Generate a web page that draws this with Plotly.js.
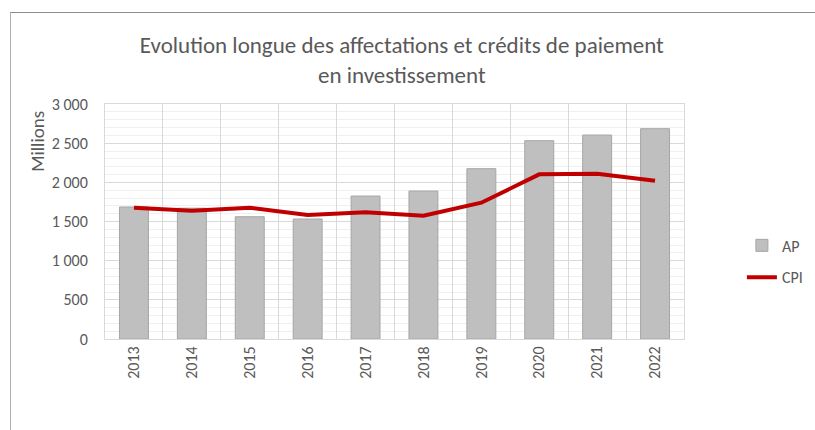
<!DOCTYPE html>
<html>
<head>
<meta charset="utf-8">
<script src="https://cdn.plot.ly/plotly-3.0.1.min.js"></script>
<style>
html,body{margin:0;padding:0;background:#fff;}
#wrap{position:relative;width:815px;height:430px;overflow:hidden;}
#frame{position:absolute;left:10px;top:12px;width:900px;height:500px;border-top:1px solid #8c8c8c;border-left:1px solid #b0b0b0;pointer-events:none;z-index:5;}
#chart{position:absolute;left:0;top:0;width:815px;height:430px;}
</style>
</head>
<body>
<div id="wrap"><div id="chart"></div><div id="frame"></div></div>
<script>
const years = ["2013","2014","2015","2016","2017","2018","2019","2020","2021","2022"];
const apValues = [1685, 1670, 1561, 1532, 1825, 1889, 2174, 2532, 2604, 2685];
const cpiValues = [1676, 1638, 1676, 1583, 1617, 1574, 1740, 2102, 2110, 2021];
const yTickVals = [0, 500, 1000, 1500, 2000, 2500, 3000];
const yTickText = ["0", "500", "1 000", "1 500", "2 000", "2 500", "3 000"];

const font = "Calibri, Carlito, 'Liberation Sans', 'Open Sans', sans-serif";
const grey = "#595959";

const traces = [
  {
    type: "bar", name: "AP", x: years, y: apValues, legendgroup: "a",
    marker: {color: "#bfbfbf", line: {color: "#a6a6a6", width: 1}},
    width: 0.5
  },
  {
    type: "scatter", mode: "lines", name: "CPI", x: years, y: cpiValues, legendgroup: "b",
    line: {color: "#c00000", width: 4}
  }
];

const layout = {
  width: 815, height: 430,
  margin: {l: 105, r: 131, t: 104, b: 91, autoexpand: false},
  paper_bgcolor: "#fff", plot_bgcolor: "#fff",
  font: {family: font, color: grey, size: 16},
  title: {
    text: "Evolution longue des affectations et crédits de paiement<br>en investissement",
    font: {size: 23, color: grey, family: font},
    x: 0.493, xref: "container", xanchor: "center",
    y: 0.877, yref: "container", yanchor: "middle"
  },
  showlegend: true,
  legend: {
    x: 1.1, xanchor: "left", y: 0.33, yanchor: "middle",
    font: {size: 16, color: grey}, tracegroupgap: 8, traceorder: "grouped"
  },
  xaxis: {
    type: "category",
    tickson: "boundaries",
    showgrid: true, gridcolor: "#d9d9d9", gridwidth: 1,
    showline: true, linecolor: "#d9d9d9", linewidth: 1,
    ticks: "outside", ticklen: 5, tickcolor: "rgba(0,0,0,0)", tickangle: -90,
    tickfont: {size: 16, color: grey},
    range: [-0.5, 9.5], mirror: true
  },
  yaxis: {
    range: [0, 3000],
    tickvals: yTickVals, ticktext: yTickText,
    showgrid: true, gridcolor: "#d9d9d9", gridwidth: 1,
    zeroline: false,
    showline: true, linecolor: "#d9d9d9", mirror: true,
    minor: {dtick: 100, showgrid: true, gridcolor: "#f0f0f0", gridwidth: 1},
    ticks: "outside", ticklen: 13, tickcolor: "rgba(0,0,0,0)", tickfont: {size: 16, color: grey},
    automargin: false
  },
  annotations: [{
    text: "Millions", textangle: -90,
    xref: "paper", yref: "paper",
    x: -0.117, y: 0.84, xanchor: "center", yanchor: "middle",
    showarrow: false, font: {size: 19, color: grey}
  }],
  bargap: 0.5
};

Plotly.newPlot("chart", traces, layout, {displayModeBar: false, staticPlot: true});
</script>
</body>
</html>
